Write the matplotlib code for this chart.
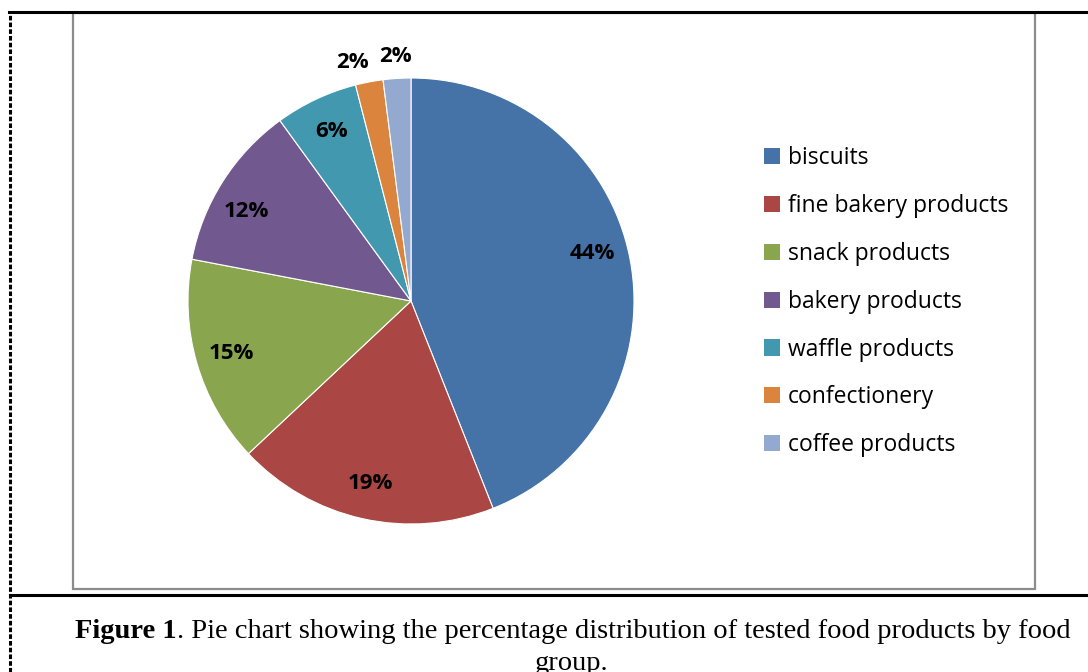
import matplotlib.pyplot as plt
from matplotlib.lines import Line2D
from matplotlib.patches import Rectangle
import numpy as np

categories = ["biscuits", "fine bakery products", "snack products", "bakery products",
              "waffle products", "confectionery", "coffee products"]
shares = [44, 19, 15, 12, 6, 2, 2]
colors = ["#4572A7", "#AA4643", "#89A54E", "#71588F", "#4198AF", "#DB843D", "#93A9CF"]
caption_bold = "Figure 1"
caption_rest = ". Pie chart showing the percentage distribution of tested food products by food"
caption_line2 = "group."

W, H = 1088, 672
fig = plt.figure(figsize=(W / 100, H / 100), dpi=100)


def fx(px):
    return px / W


def fy(py):
    return 1 - py / H


# page borders
fig.add_artist(Line2D([fx(9), 1], [fy(12), fy(12)], color="black", lw=2.2))
fig.add_artist(Line2D([fx(10), fx(10)], [0, fy(12)], color="black", lw=2.2,
                      linestyle=(0, (1.5, 0.7))))
fig.add_artist(Line2D([fx(10), 1], [fy(595), fy(595)], color="black", lw=2.2))
# chart frame
fig.add_artist(Rectangle((fx(73), fy(589)), fx(1035) - fx(73), fy(13) - fy(589),
                         fill=False, edgecolor="#8c8c8c", lw=1.6))

# pie
cx, cy, r = 411, 301, 223
ax = fig.add_axes([fx(cx - r), fy(cy + r), 2 * r / W, 2 * r / H])
wedges, _ = ax.pie(shares, colors=colors, startangle=90, counterclock=False,
                   wedgeprops=dict(edgecolor="white", linewidth=0.8))
ax.set_xlim(-1, 1)
ax.set_ylim(-1, 1)
ax.set_aspect("equal")
ax.axis("off")

total = sum(shares)
cum = 0
for i, v in enumerate(shares):
    mid = 90 - (cum + v / 2) / total * 360
    cum += v
    d = 1.1 if v < 4 else 0.84
    if i == 0:
        mid += 4
    if i == 3:
        mid += 4
    if i == 5:
        mid += 3
    ax.text(d * np.cos(np.radians(mid)), d * np.sin(np.radians(mid)), f"{v}%",
            ha="center", va="center", fontsize=16, fontweight="bold",
            family="Open Sans", color="black", clip_on=False)

handles = [Rectangle((0, 0), 1, 1, facecolor=c, edgecolor="none") for c in colors]
fig.legend(handles, categories, loc="upper left", bbox_to_anchor=(fx(755), fy(137)),
           frameon=False, prop=dict(family="Open Sans", size=16.5),
           handlelength=0.7, handleheight=0.7, handletextpad=0.35,
           labelspacing=1.04, borderaxespad=0)

# caption
fs = 20.5
t = fig.text(fx(75), fy(632), caption_bold, fontsize=fs, fontweight="bold",
             family="Liberation Serif", va="center", ha="left")
fig.canvas.draw()
bb = t.get_window_extent()
fig.text(bb.x1 / W, fy(632), caption_rest, fontsize=fs, family="Liberation Serif",
         va="center", ha="left")
fig.text(fx(572), fy(664), caption_line2, fontsize=fs, family="Liberation Serif",
         va="center", ha="center")

fig.savefig("out.png", dpi=100)
